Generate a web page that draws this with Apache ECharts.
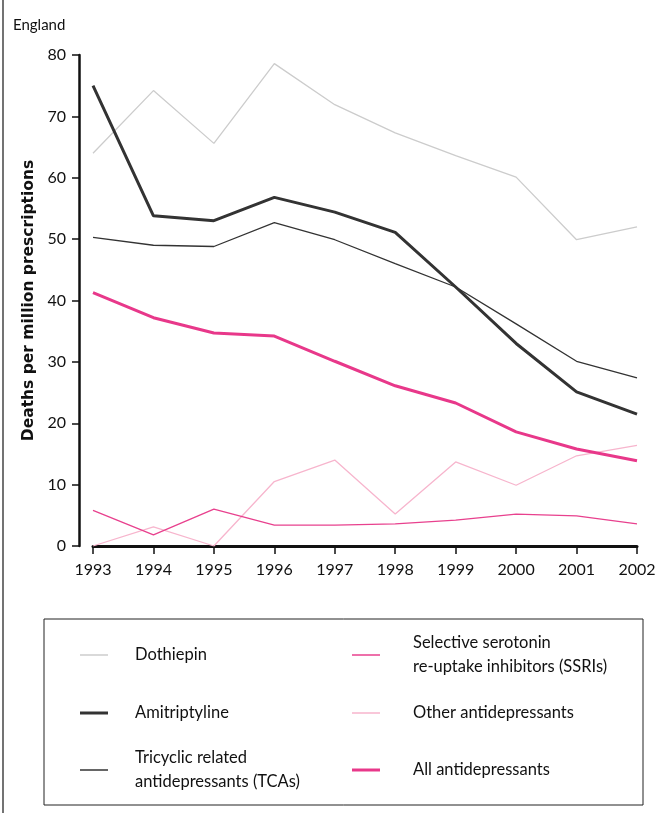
<!DOCTYPE html>
<html>
<head>
<meta charset="utf-8">
<script src="https://cdn.jsdelivr.net/npm/echarts@6/dist/echarts.min.js"></script>
<style>
html,body{margin:0;padding:0;background:#fff;}
#chart{width:664px;height:813px;}
</style>
</head>
<body>
<div id="chart"></div>
<script>
var years = ['1993','1994','1995','1996','1997','1998','1999','2000','2001','2002'];
var dothiepin = [64.0, 74.2, 65.6, 78.6, 71.9, 67.3, 63.6, 60.1, 49.9, 52.0];
var amitriptyline = [75.0, 53.8, 53.0, 56.8, 54.4, 51.1, 42.2, 33.0, 25.1, 21.5];
var tcas = [50.3, 49.0, 48.8, 52.7, 49.9, 46.0, 42.2, 36.2, 30.1, 27.4];
var ssris = [5.8, 1.8, 6.0, 3.4, 3.4, 3.6, 4.2, 5.2, 4.9, 3.6];
var others = [0, 3.1, 0, 10.5, 14.0, 5.2, 13.7, 9.9, 14.7, 16.4];
var allAnti = [41.3, 37.2, 34.7, 34.2, 30.1, 26.1, 23.3, 18.6, 15.8, 13.9];
var yTicks = [0, 10, 20, 30, 40, 50, 60, 70, 80];

var names = ['Dothiepin', 'Amitriptyline', 'Tricyclic related\nantidepressants (TCAs)',
             'Selective serotonin\nre-uptake inhibitors (SSRIs)', 'Other antidepressants', 'All antidepressants'];
var dataSets = [dothiepin, amitriptyline, tcas, ssris, others, allAnti];
var colors = ['#cccccc', '#333333', '#333333', '#e8418e', '#f7b5cd', '#e8388a'];
var widths = [1.3, 3, 1.3, 1.3, 1.3, 3];

var FONT = 'Lato, "Open Sans", sans-serif';
var chart = echarts.init(document.getElementById('chart'));

var series = names.map(function (n, i) {
  return {
    name: n, type: 'line', data: dataSets[i], symbol: 'none',
    lineStyle: { color: colors[i], width: widths[i] },
    itemStyle: { color: colors[i] },
    z: [1, 4, 3, 2, 1, 5][i]
  };
});

// legend drawn from series names/styles
var legendGraphics = [
  { type: 'rect', shape: { x: 44, y: 619, width: 599, height: 186 },
    style: { fill: 'none', stroke: '#222', lineWidth: 1 } }
];
var legPos = [
  { lx: 80, ty: 655, tx: 135 }, { lx: 80, ty: 713, tx: 135 }, { lx: 80, ty: 770, tx: 135 },
  { lx: 352, ty: 655, tx: 413 }, { lx: 352, ty: 713, tx: 413 }, { lx: 352, ty: 770, tx: 413 }
];
names.forEach(function (n, i) {
  var p = legPos[i];
  legendGraphics.push({ type: 'line', shape: { x1: p.lx, y1: p.ty, x2: p.lx + 28, y2: p.ty },
    style: { stroke: colors[i], lineWidth: widths[i] === 3 ? 3 : 1.5 } });
  legendGraphics.push({ type: 'text', x: p.tx, y: p.ty,
    style: { text: n, fill: '#111', font: '16.5px ' + FONT, verticalAlign: 'middle', lineHeight: 24 } });
});

chart.setOption({
  animation: false,
  backgroundColor: '#fff',
  grid: { left: 93, right: 27, top: 55, bottom: 267, containLabel: false },
  xAxis: {
    type: 'category', data: years, boundaryGap: false,
    axisLine: { lineStyle: { color: '#111', width: 3 } },
    axisTick: { alignWithLabel: true, length: 8, lineStyle: { color: '#111', width: 1.5 } },
    axisLabel: { color: '#111', fontSize: 16, fontFamily: FONT, margin: 16 },
    splitLine: { show: false }
  },
  yAxis: {
    type: 'value', min: 0, max: 80, interval: 10, offset: 14,
    name: 'Deaths per million prescriptions', nameLocation: 'middle', nameGap: 40,
    nameTextStyle: { color: '#111', fontSize: 15.5, fontWeight: 'bold', fontFamily: '"DejaVu Sans", sans-serif' },
    axisLine: { show: true, lineStyle: { color: '#111', width: 2.5 } },
    axisTick: { show: true, length: 7, lineStyle: { color: '#111', width: 1.5 } },
    axisLabel: { color: '#111', fontSize: 16, fontFamily: FONT, margin: 13,
      formatter: function (v) { return yTicks.indexOf(v) >= 0 ? String(v) : ''; } },
    splitLine: { show: false }
  },
  graphic: [
    { type: 'line', shape: { x1: 3, y1: 0, x2: 3, y2: 813 }, style: { stroke: '#444', lineWidth: 1.5 } },
    { type: 'text', x: 13, y: 25, style: { text: 'England', fill: '#111', font: '15px ' + FONT, verticalAlign: 'middle' } }
  ].concat(legendGraphics),
  series: series
});
</script>
</body>
</html>
